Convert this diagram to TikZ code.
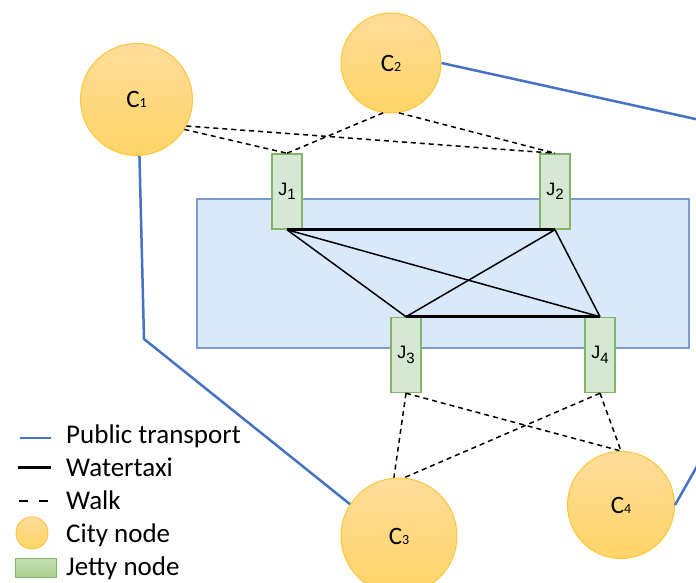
\documentclass[tikz,border=0pt]{standalone}
\usepackage{fontspec}
\setmainfont{Carlito}
\newfontfamily\arialf{Liberation Sans}
\definecolor{cityTop}{HTML}{FFDC9A}
\definecolor{cityBot}{HTML}{FFD466}
\definecolor{cityDraw}{HTML}{FCC53A}
\definecolor{jetFill}{HTML}{D5E8D4}
\definecolor{jetDraw}{HTML}{82B366}
\definecolor{legJetTop}{HTML}{C5E0B4}
\definecolor{legJetBot}{HTML}{A9D18E}
\definecolor{waterFill}{HTML}{DAE8FC}
\definecolor{waterDraw}{HTML}{7C9CCB}
\definecolor{ptBlue}{HTML}{4472C4}
\newcommand\citydigit[1]{{\fontsize{14}{16}\selectfont #1}}
\newcommand\jettysub[1]{\raisebox{-4.4pt}{\fontsize{15}{16}\selectfont #1}}
\begin{document}
\begin{tikzpicture}[x=1pt,y=-1pt,
  city/.style={circle, draw=cityDraw, line width=1pt, top color=cityTop, bottom color=cityBot, inner sep=0pt, font=\fontsize{25}{30}\selectfont},
  jetty/.style={rectangle, draw=jetDraw, fill=jetFill, line width=1.5pt, minimum width=30pt, minimum height=75pt, inner sep=0pt, font=\arialf\fontsize{18}{20}\selectfont},
  taxi/.style={black, line width=3pt},
  taxithin/.style={black, line width=1.5pt},
  walk/.style={black, line width=1.5pt, dash pattern=on 5pt off 4pt},
  pubt/.style={ptBlue, line width=2.5pt},
  legtext/.style={anchor=base west, inner sep=0pt, font=\fontsize{27}{30}\selectfont}
]
\useasboundingbox (0,0) rectangle (696,583);
\clip (0,0) rectangle (696,583);

% water area
\node[draw=waterDraw, fill=waterFill, line width=1.2pt, rectangle, inner sep=0pt,
      minimum width=492pt, minimum height=149pt] (water) at (443,273.5) {};

% city nodes
\node[city, minimum size=112pt] (C1) at (136.5,99.5) {C\citydigit{1}};
\node[city, minimum size=100pt] (C2) at (391,63) {C\citydigit{2}};
\node[city, minimum size=116pt] (C3) at (399,536) {C\citydigit{3}};
\node[city, minimum size=107pt] (C4) at (621,505) {C\citydigit{4}};

% jetty nodes
\node[jetty] (J1) at (287,191.5) {J\jettysub{1}};
\node[jetty] (J2) at (555,191.5) {J\jettysub{2}};
\node[jetty] (J3) at (406,355) {J\jettysub{3}};
\node[jetty] (J4) at (600,355) {J\jettysub{4}};

% watertaxi
\draw[taxithin] (J1.south) -- (J3.north);
\draw[taxithin] (J1.south) -- (J4.north);
\draw[taxithin] (J2.south) -- (J3.north);
\draw[taxithin] (J2.south) -- (J4.north);
\draw[taxi] (J1.south) -- (J2.south);
\draw[taxi] (J3.north) -- (J4.north);

% walk
\draw[walk] (C1.-32) -- (J1.north);
\draw[walk] (C1.-28) -- (J2.north);
\draw[walk] (C2.-99) -- (J1.north);
\draw[walk] (C2.-81) -- (J2.north);
\draw[walk] (J3.south) -- (C3.95);
\draw[walk] (J3.south) -- (C4.north);
\draw[walk] (J4.south) -- (C3.85);
\draw[walk] (J4.south) -- (C4.north);

% public transport
\coordinate (bend) at (144,339);
\coordinate (outR1) at (700,120);
\coordinate (outR2) at (700,461);
\draw[pubt, line join=round] (C1.-87) -- (bend) -- (C3.147);
\draw[pubt] (C2.east) -- (outR1);
\draw[pubt] (C4.east) -- (outR2);

% legend
\coordinate (lpA) at (20,438); \coordinate (lpB) at (51,438);
\coordinate (ltA) at (18,467); \coordinate (ltB) at (51,467);
\coordinate (lwA) at (18.5,501); \coordinate (lwB) at (48,501);
\draw[pubt] (lpA) -- (lpB);
\draw[taxi] (ltA) -- (ltB);
\draw[black, line width=2.5pt, dash pattern=on 9pt off 11.5pt] (lwA) -- (lwB);
\node[circle, draw=cityDraw, line width=1pt, top color=cityTop, bottom color=cityBot, minimum size=32pt, inner sep=0pt] (lcity) at (32,533) {};
\node[rectangle, draw=jetDraw, line width=1pt, top color=legJetTop, bottom color=legJetBot, minimum width=41pt, minimum height=19pt, inner sep=0pt] (ljetty) at (35.5,567.5) {};
\node[legtext] (t1) at (66,443) {Public transport};
\node[legtext] (t2) at (66,476) {Watertaxi};
\node[legtext] (t3) at (66,509) {Walk};
\node[legtext] (t4) at (66,542) {City node};
\node[legtext] (t5) at (66,575) {Jetty node};
\end{tikzpicture}
\end{document}
